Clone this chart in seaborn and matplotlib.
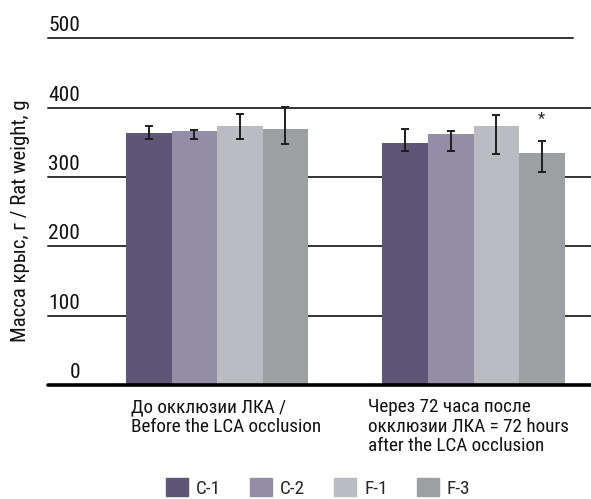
import os
import matplotlib
matplotlib.use("Agg")
import matplotlib.pyplot as plt
from matplotlib import font_manager as fm
from matplotlib.transforms import ScaledTranslation
import numpy as np
import pandas as pd
import seaborn as sns

# Rat body weight by group, before and 72 h after LCA occlusion
periods = [
    "До окклюзии ЛКА /\nBefore the LCA occlusion",
    "Через 72 часа после\nокклюзии ЛКА = 72 hours\nafter the LCA occlusion",
]
groups = ["C-1", "C-2", "F-1", "F-3"]
weight_before = [363, 367, 373, 369]
weight_after = [349, 362, 373, 334]
err_minus_before = [8, 12.5, 18, 22]
err_plus_before = [10, 1, 18, 32]
err_minus_after = [12, 25, 40, 27.5]
err_plus_after = [20, 4, 16, 17.5]
y_ticks = [0, 100, 200, 300, 400, 500]
y_label = "Масса крыс, г / Rat weight, g"
colors = ["#5f5577", "#938da7", "#bbbcc1", "#9e9fa3"]

sns.set_style("white")


def pick_font():
    """Prefer a narrow/condensed regular sans face; fall back to Liberation Sans."""
    files = [f.fname for f in fm.fontManager.ttflist]
    prefs = ["liberationsansnarrow-regular", "robotocondensed-regular",
             "notosans-condensed.", "notosans-condensedregular",
             "opensans-condensedregular", "opensans_condensed-regular",
             "dejavusanscondensed."]
    low = {os.path.basename(p).lower(): p for p in files}
    for key in prefs:
        for name, path in low.items():
            if name.startswith(key):
                return path
    for name, path in low.items():
        if ("narrow" in name or "condensed" in name) and not any(
                s in name for s in ("bold", "italic", "oblique", "light", "thin",
                                    "black", "medium", "semi", "extra", "mono", "serif")):
            return path
    return fm.findfont(fm.FontProperties(family="Liberation Sans"))


FONT_PATH = pick_font()
plt.rcParams["font.family"] = [fm.FontProperties(fname=FONT_PATH).get_name(),
                               "DejaVu Sans"]


def fp(size):
    return fm.FontProperties(fname=FONT_PATH, size=size)


# pick a size so that the label block keeps a compact width
fig = plt.figure(figsize=(5.91, 4.99), dpi=100)
renderer = fig.canvas.get_renderer()
probe = fig.text(0, 0, "Before the LCA occlusion", fontproperties=fp(10))
w10 = probe.get_window_extent(renderer).width
probe.remove()
FS = min(14.0, 10 * 190 / w10)
FS_PX = FS * 100 / 72

df = pd.DataFrame({
    "period": [periods[0]] * 4 + [periods[1]] * 4,
    "group": groups * 2,
    "weight": weight_before + weight_after,
})
err_minus = {periods[0]: err_minus_before, periods[1]: err_minus_after}
err_plus = {periods[0]: err_plus_before, periods[1]: err_plus_after}

ax = fig.add_axes([48 / 591, 114 / 499, 543 / 591, (385 - 38.3) / 499])

sns.barplot(data=df, x="period", y="weight", hue="group", palette=colors,
            hue_order=groups, order=periods, width=0.71, saturation=1,
            errorbar=None, ax=ax, zorder=2, legend=False,
            linewidth=0, edgecolor="none")

# asymmetric error bars at the centre of each bar
bar_containers = list(ax.containers)
for gi, container in enumerate(bar_containers):
    for pi, bar in enumerate(container):
        p = periods[pi]
        xc = bar.get_x() + bar.get_width() / 2
        h = bar.get_height()
        ax.errorbar(xc, h, yerr=[[err_minus[p][gi]], [err_plus[p][gi]]],
                    fmt="none", ecolor="#1e1e1e", elinewidth=1.4,
                    capsize=2.6, capthick=1.4, zorder=4)
        if pi == 1 and groups[gi] == "F-3":
            ax.annotate("*", (xc, h + err_plus[p][gi]), xytext=(0, 11),
                        textcoords="offset points", ha="center", va="bottom",
                        fontsize=12, color="#222222")

# horizontal grid lines, the top one slightly shorter
for y in y_ticks[1:]:
    ax.axhline(y, xmin=0, xmax=(525 / 543 if y == 500 else 1),
               color="#333333", lw=1.4, zorder=1, clip_on=False)
ax.axhline(0, color="black", lw=2.6, zorder=5, clip_on=False)

ax.set_ylim(0, 500)
ax.set_xlim(-0.659, 1.458)
for s in ax.spines.values():
    s.set_visible(False)

ax.set_yticks(y_ticks)
ax.set_yticklabels([str(v) for v in y_ticks])
ax.tick_params(axis="y", length=0, pad=0)
for lab in ax.get_yticklabels():
    lab.set_fontproperties(fp(FS * 1.12))
    lab.set_color("#111111")
    lab.set_transform(lab.get_transform() +
                      ScaledTranslation(0.32, 0.145, fig.dpi_scale_trans))

ax.set_xticks([])
ax.set_xlabel("")
ax.set_ylabel("")
left_px = [131, 368]
for i, p in enumerate(periods):
    centre_px = 217 if i == 0 else 473.5
    ax.text(i, 0, p, transform=ax.get_xaxis_transform() +
            ScaledTranslation((left_px[i] - centre_px) / 100, -0.13, fig.dpi_scale_trans),
            ha="left", va="top", fontproperties=fp(FS), linespacing=1.12,
            color="#111111")

fig.text(21 / 591, 1 - 221 / 499, y_label, rotation=90, ha="center",
         va="center", fontproperties=fp(FS * 1.08), color="#111111")

handles = [plt.Rectangle((0, 0), 1, 1, color=c) for c in colors]
fig.legend(handles, groups, loc="center", bbox_to_anchor=(318 / 591, 11 / 499),
           ncol=4, frameon=False, prop=fp(FS), handlelength=22 / FS_PX,
           handleheight=20 / FS_PX, handletextpad=8 / FS_PX,
           columnspacing=29 / FS_PX, borderpad=0.2)

fig.savefig("out.png", dpi=100)
